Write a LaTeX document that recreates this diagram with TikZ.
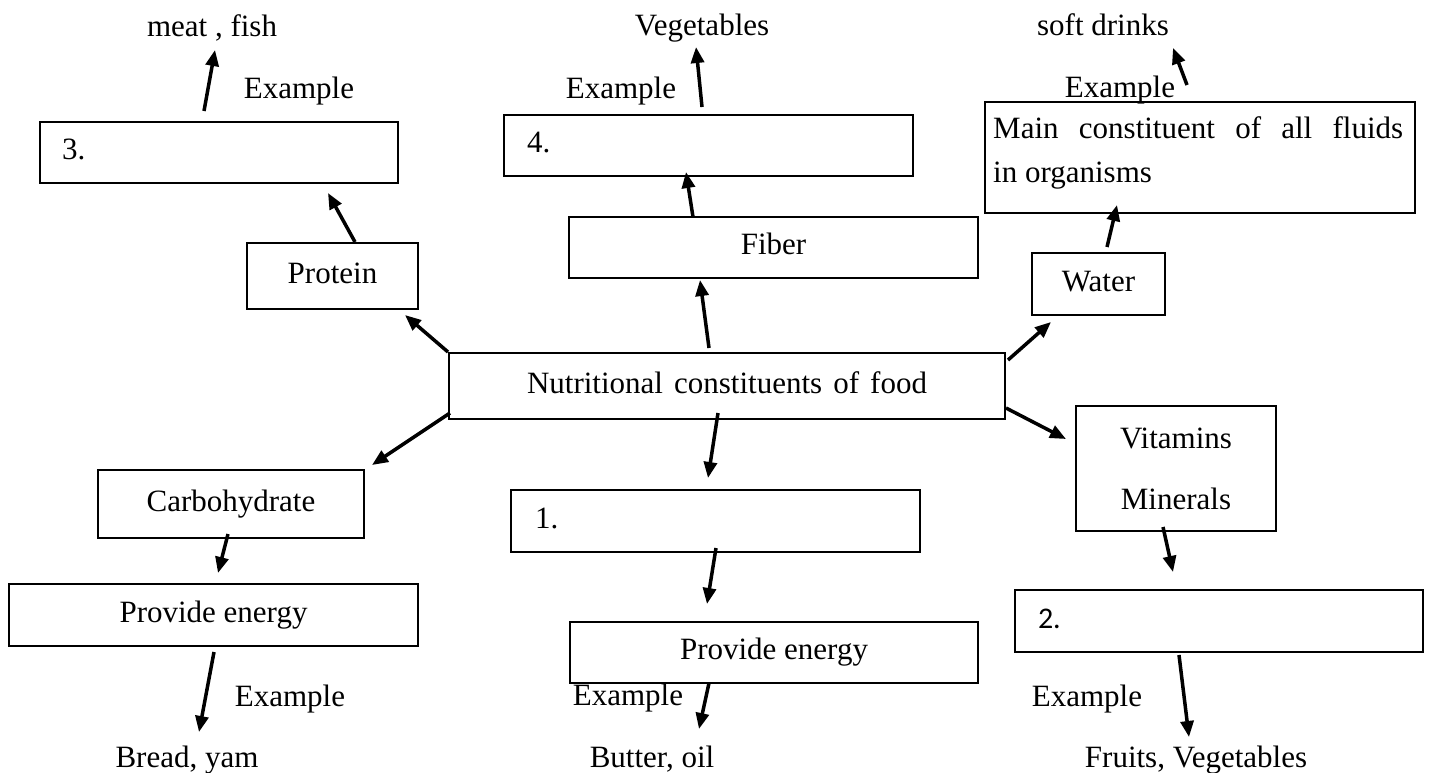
\documentclass[tikz,border=0pt]{standalone}
\usepackage{fontspec}
\setmainfont{Liberation Serif}
\newfontfamily\calibrifont{Carlito}
\usetikzlibrary{arrows.meta}
\tikzset{
  box/.style={draw, line width=2.5pt, inner sep=0pt, outer sep=0pt, text height=21pt, text depth=7pt},
  lbox/.style={box, align=left},
  arr/.style={line width=3.5pt, -{Triangle[length=16pt,width=13pt]}},
  lbl/.style={anchor=base, inner sep=0pt, outer sep=0pt}
}
\begin{document}
\begin{tikzpicture}[x=1pt,y=-1pt,font=\fontsize{31}{37}\selectfont]
\fill[white] (0,0) rectangle (1429,772);
\useasboundingbox (0,0) rectangle (1429,772);

% boxes
\node[lbox, minimum width=358pt, minimum height=61pt, text width=314pt, inner xsep=22pt] (b3) at (219,152.5) {3.};
\node[lbox, minimum width=409pt, minimum height=61pt, text width=363pt, inner xsep=23pt] (b4) at (708.5,145.5) {4.};
\node[box, minimum width=430pt, minimum height=111pt] (wbox) at (1200,157.5) {};
\node[anchor=north west, align=left, inner sep=0pt] (wtext) at (993,116) {\makebox[410pt][s]{Main constituent of all fluids}\\[7pt]in organisms};
\node[box, minimum width=171pt, minimum height=66pt] (prot) at (332.5,276) {Protein};
\node[box, minimum width=409pt, minimum height=61pt] (fiber) at (773.5,247.5) {Fiber};
\node[box, minimum width=133pt, minimum height=62pt] (water) at (1098.5,284) {Water};
\node[box, minimum width=556pt, minimum height=66pt] (main) at (727,386) {\makebox[400pt][s]{Nutritional constituents of food}};
\node[draw, line width=2.5pt, inner sep=0pt, outer sep=0pt, minimum width=200pt, minimum height=125pt, align=center] (vit) at (1176,468.5) {Vitamins\\[24pt]Minerals};
\node[box, minimum width=266pt, minimum height=68pt] (carb) at (231,504) {Carbohydrate};
\node[box, minimum width=409pt, minimum height=62pt] (pe1) at (213.5,615) {Provide energy};
\node[lbox, minimum width=409pt, minimum height=62pt, text width=361pt, inner xsep=24pt] (b1) at (715.5,521) {1.};
\node[box, minimum width=408pt, minimum height=61pt] (pe2) at (774,652.5) {Provide energy};
\node[lbox, minimum width=408pt, minimum height=62pt, text width=362pt, inner xsep=23pt] (b2) at (1219,621) {\calibrifont\fontsize{30}{36}\selectfont 2.};

% free labels
\node[lbl] (meat) at (212,36) {meat , fish};
\node[lbl] (ex1) at (299,98) {Example};
\node[lbl] (veg) at (702,35) {Vegetables};
\node[lbl] (ex2) at (621,98) {Example};
\node[lbl] (soft) at (1103,35) {soft drinks};
\node[lbl] (ex3) at (1120,97) {Example};
\node[lbl] (ex4) at (290,706) {Example};
\node[lbl] (bread) at (187,767) {Bread, yam};
\node[lbl] (ex5) at (628,705) {Example};
\node[lbl] (butter) at (652,767) {Butter, oil};
\node[lbl] (ex6) at (1087,706) {Example};
\node[lbl] (fruits) at (1196,767) {Fruits, Vegetables};

% connectors
\draw[arr] ([shift={(-15,-11)}]b3.north) -- ([shift={(3,14)}]meat.base);
\draw[arr] ([shift={(22.5,-1)}]prot.north) -- ([shift={(109,10)}]b3.south);
\draw[arr] ([shift={(-1,-1)}]main.north west) -- ([shift={(-13,6)}]prot.south east);
\draw[arr] ([shift={(-18,-5)}]main.north) -- ([shift={(-73.5,2)}]fiber.south);
\draw[arr] ([shift={(-80.5,0)}]fiber.north) -- ([shift={(-22.5,-4)}]b4.south);
\draw[arr] ([shift={(-6.5,-8)}]b4.north) -- ([shift={(-6,12)}]veg.base);
\draw[arr] ([shift={(3,-26)}]main.east) -- ([shift={(19,7)}]water.south west);
\draw[arr] ([shift={(8.5,-6)}]water.north) -- ([shift={(-83,-8)}]wbox.south);
\draw[arr] ([shift={(-13,-17)}]wbox.north) -- ([shift={(70,13)}]soft.base);
\draw[arr] ([shift={(1,22)}]main.east) -- ([shift={(-10,33)}]vit.north west);
\draw[arr] ([shift={(-13,-4)}]vit.south) -- ([shift={(-46,-18)}]b2.north);
\draw[arr] ([shift={(-40,3)}]b2.south) -- ([shift={(-7,-30)}]fruits.base);
\draw[arr] ([shift={(-9,-6)}]main.south) -- ([shift={(-7.5,-12)}]b1.north);
\draw[arr] ([shift={(0.5,-4)}]b1.south) -- ([shift={(-67,-18)}]pe2.north);
\draw[arr] ([shift={(-65,0)}]pe2.south) -- ([shift={(47,-38)}]butter.base);
\draw[arr] ([shift={(1,-6)}]main.south west) -- ([shift={(8,-5)}]carb.north east);
\draw[arr] ([shift={(-3,-4)}]carb.south) -- ([shift={(4.5,-11)}]pe1.north);
\draw[arr] ([shift={(0.5,6)}]pe1.south) -- ([shift={(12,-35)}]bread.base);
\end{tikzpicture}
\end{document}
